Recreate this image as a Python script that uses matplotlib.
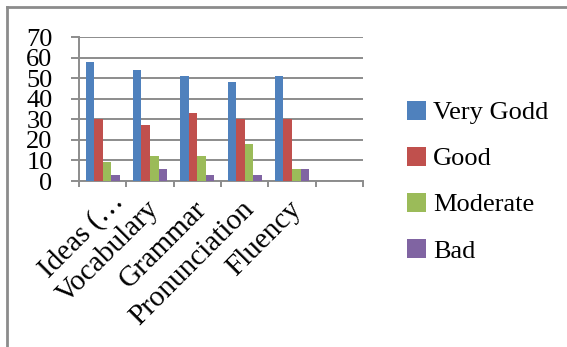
import matplotlib
matplotlib.use("Agg")
import matplotlib.pyplot as plt
import matplotlib.transforms as mtransforms
from matplotlib.lines import Line2D
from matplotlib.patches import Patch
import numpy as np

categories = ["Ideas (…", "Vocabulary", "Grammar", "Pronunciation", "Fluency", ""]
series_names = ["Very Godd", "Good", "Moderate", "Bad"]
very_good = [58, 54, 51, 48, 51, None]
good = [30, 27, 33, 30, 30, None]
moderate = [9, 12, 12, 18, 6, None]
bad = [3, 6, 3, 3, 6, None]
colors = ["#4F81BD", "#C0504D", "#9BBB59", "#8064A2"]
yticks = [0, 10, 20, 30, 40, 50, 60, 70]

plt.rcParams['font.family'] = ['Liberation Serif', 'DejaVu Serif']

W, H = 567, 347
fig = plt.figure(figsize=(W / 100, H / 100), dpi=100)
ax = fig.add_axes([79 / W, 1 - 181 / H, (363 - 79) / W, (181 - 37) / H])

grid_c = "#8C8C8C"
n = len(categories)
centers = np.arange(n) + 0.5
bw = 0.18
all_series = [very_good, good, moderate, bad]
for i, (vals, c, name) in enumerate(zip(all_series, colors, series_names)):
    xs = [centers[k] + (i - 1.5) * bw for k in range(n) if vals[k] is not None]
    ys = [v for v in vals if v is not None]
    ax.bar(xs, ys, width=bw, color=c, label=name, zorder=3, linewidth=0)

ax.set_xlim(0, n)
ax.set_ylim(0, 70)
ax.set_yticks(yticks)
ax.set_yticklabels([str(t) for t in yticks], fontsize=19)
ax.yaxis.grid(True, color=grid_c, linewidth=1.4, zorder=0)
ax.set_axisbelow(True)

ax.set_xticks(np.arange(n + 1))
ax.set_xticklabels([])
ax.set_xticks(centers, minor=True)
ax.set_xticklabels(categories, minor=True, rotation=45, ha='right', va='top',
                   rotation_mode='anchor', fontsize=21)
ax.tick_params(axis='x', which='minor', length=0, pad=11)
ax.tick_params(axis='x', which='major', length=4.5, width=1.4, color=grid_c, direction='out')
ax.tick_params(axis='y', length=6, width=1.4, color=grid_c, pad=13)
for k, lab in enumerate(ax.xaxis.get_minorticklabels()):
    dx, dy = (-4, 0) if k > 0 else (7, 9)
    offset = mtransforms.ScaledTranslation(dx / 100, dy / 100, fig.dpi_scale_trans)
    lab.set_transform(lab.get_transform() + offset)

for s in ['top', 'right']:
    ax.spines[s].set_visible(False)
for s in ['left', 'bottom']:
    ax.spines[s].set_color(grid_c)
    ax.spines[s].set_linewidth(1.4)

handles = [Patch(facecolor=c, edgecolor='none') for c in colors]
fig.legend(handles, series_names, loc='upper left', bbox_to_anchor=(396 / W, 1 - 90 / H),
           frameon=False, fontsize=19, handlelength=0.75, handleheight=0.75,
           handletextpad=0.25, labelspacing=0.84, borderaxespad=0)

# outer frame
fig.add_artist(Line2D([7 / W, 1], [1 - 7 / H, 1 - 7 / H], color="#8C8C8C", linewidth=2,
                      transform=fig.transFigure))
fig.add_artist(Line2D([7 / W, 7 / W], [0, 1 - 7 / H], color="#8C8C8C", linewidth=2,
                      transform=fig.transFigure))

fig.savefig("out.png", dpi=100)
